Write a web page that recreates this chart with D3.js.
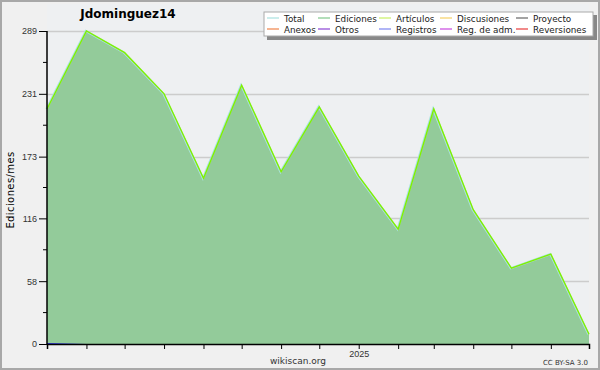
<!DOCTYPE html>
<html>
<head>
<meta charset="utf-8">
<script src="https://cdn.jsdelivr.net/npm/d3@7"></script>
<style>
  body { margin: 0; background: #f0f0f0; }
  svg { display: block; font-family: "DejaVu Sans", sans-serif; }
</style>
</head>
<body>
<div id="chart"></div>
<script>
const width = 600;
const height = 370;

const margin = {
    top: 31,
    right: 11,
    bottom: 26,
    left: 47
};

// monthly values, May 2024 .. Jul 2025
const months = ['2024-05', '2024-06', '2024-07', '2024-08', '2024-09', '2024-10', '2024-11', '2024-12',
    '2025-01', '2025-02', '2025-03', '2025-04', '2025-05', '2025-06', '2025-07'];
const totalValues = [217, 289, 269, 231, 153, 239, 159, 219, 155, 106, 217, 124, 70, 83, 9];
const articulosValues = [217, 289, 269, 231, 153, 239, 159, 219, 155, 106, 217, 124, 70, 83, 9];
const registrosValues = [1, 0, 0, 0, 0, 0, 0, 0, 0, 0, 0, 0, 0, 0, 0];
const yTicks = [0, 58, 116, 173, 231, 289];

const legendNames = ['Total', 'Ediciones', 'Artículos', 'Discusiones', 'Proyecto',
    'Anexos', 'Otros', 'Registros', 'Reg. de adm.', 'Reversiones'];
const legendColors = ['#a8e2e0', '#80c98c', '#c8f064', '#f5d066', '#666666',
    '#f0844a', '#8a44d4', '#7c84f0', '#c848e0', '#e83c3c'];

const parseMonth = d3.timeParse('%Y-%m');
const data = months.map((m, i) => ({
    date: parseMonth(m),
    total: totalValues[i],
    articulos: articulosValues[i],
    registros: registrosValues[i]
}));

const svg = d3.select('#chart').append('svg')
    .attr('width', width)
    .attr('height', height);

svg.append('rect')
    .attr('x', 1).attr('y', 1)
    .attr('width', width - 2).attr('height', height - 2)
    .attr('fill', '#f0f0f0')
    .attr('stroke', '#a8a8a8')
    .attr('stroke-width', 2);

const xScale = d3.scaleTime()
    .domain(d3.extent(data, d => d.date))
    .range([margin.left, width - margin.right]);

const yScale = d3.scaleLinear()
    .domain([0, d3.max(totalValues)])
    .range([height - margin.bottom, margin.top]);

// plot background
svg.append('rect')
    .attr('x', margin.left)
    .attr('y', 4)
    .attr('width', width - margin.right - margin.left)
    .attr('height', height - margin.bottom - 4)
    .attr('fill', '#eef0f2');

// grid
svg.selectAll('.grid')
    .data(yTicks.slice(1))
    .join('line')
    .attr('class', 'grid')
    .attr('x1', margin.left)
    .attr('x2', width - margin.right)
    .attr('y1', d => Math.round(yScale(d)) + 0.5)
    .attr('y2', d => Math.round(yScale(d)) + 0.5)
    .attr('stroke', '#cccccc')
    .attr('stroke-width', 1.5);

// areas
const area = d3.area()
    .x(d => xScale(d.date))
    .y0(yScale(0))
    .y1(d => yScale(d.total));

svg.append('path')
    .datum(data)
    .attr('d', area)
    .attr('fill', '#93cb9a');

svg.append('path')
    .datum(data)
    .attr('d', d3.area().x(d => xScale(d.date)).y0(yScale(0)).y1(d => yScale(d.registros)))
    .attr('fill', '#2a2ae0');

const line = d3.line()
    .x(d => xScale(d.date))
    .y(d => yScale(d.total));

svg.append('path')
    .datum(data)
    .attr('d', line)
    .attr('fill', 'none')
    .attr('stroke', '#a8e2e0')
    .attr('stroke-width', 2.2)
    .attr('transform', 'translate(-0.6,0)');

svg.append('path')
    .datum(data)
    .attr('d', d3.line().x(d => xScale(d.date)).y(d => yScale(d.articulos)))
    .attr('fill', 'none')
    .attr('stroke', '#80f000')
    .attr('stroke-width', 1.4);

// y axis
const yAxis = d3.axisLeft(yScale)
    .tickValues(yTicks)
    .tickSize(8)
    .tickPadding(2)
    .tickFormat(d3.format('d'));

const yAxisG = svg.append('g')
    .attr('transform', `translate(${margin.left},0)`)
    .call(yAxis);
yAxisG.select('.domain').remove();
yAxisG.selectAll('text').attr('font-size', 9).attr('fill', '#333');

const minorTicks = yTicks.slice(1).map((d, i) => (d + yTicks[i]) / 2);
svg.selectAll('.minor')
    .data(minorTicks)
    .join('line')
    .attr('class', 'minor')
    .attr('x1', margin.left - 4)
    .attr('x2', margin.left)
    .attr('y1', d => yScale(d))
    .attr('y2', d => yScale(d))
    .attr('stroke', '#000');

svg.append('line')
    .attr('x1', margin.left).attr('x2', margin.left)
    .attr('y1', yScale(d3.max(totalValues))).attr('y2', yScale(0) + 1)
    .attr('stroke', '#000').attr('stroke-width', 1.5);

// x axis
const xAxis = d3.axisBottom(xScale)
    .tickValues(data.map(d => d.date))
    .tickSize(5)
    .tickFormat(d => d.getMonth() === 0 ? d3.timeFormat('%Y')(d) : '');

const xAxisG = svg.append('g')
    .attr('transform', `translate(0,${yScale(0)})`)
    .call(xAxis);
xAxisG.select('.domain').attr('stroke-width', 1.5);
xAxisG.selectAll('text').attr('font-size', 9).attr('fill', '#333').attr('dy', '0.5em');

// texts
svg.append('text')
    .attr('x', 128).attr('y', 18)
    .attr('text-anchor', 'middle')
    .attr('font-size', 12).attr('font-weight', 'bold')
    .text('Jdominguez14');

svg.append('text')
    .attr('transform', `translate(14,190) rotate(-90)`)
    .attr('text-anchor', 'middle')
    .attr('font-size', 10)
    .attr('letter-spacing', 0.4)
    .text('Ediciones/mes');

svg.append('text')
    .attr('x', 298).attr('y', 364)
    .attr('text-anchor', 'middle')
    .attr('font-size', 9).attr('fill', '#333')
    .text('wikiscan.org');

svg.append('text')
    .attr('x', 588).attr('y', 365)
    .attr('text-anchor', 'end')
    .attr('font-size', 7).attr('fill', '#333')
    .text('CC BY-SA 3.0');

// legend
const legend = svg.append('g');
legend.append('rect')
    .attr('x', 267).attr('y', 15).attr('width', 330).attr('height', 25)
    .attr('fill', '#888');
legend.append('rect')
    .attr('x', 264).attr('y', 12).attr('width', 329).attr('height', 24)
    .attr('fill', '#fff').attr('stroke', '#aaa');

const colX = [267, 318, 379, 440, 516];
const items = legend.selectAll('.item')
    .data(legendNames)
    .join('g')
    .attr('class', 'item')
    .attr('transform', (d, i) => `translate(${colX[i % 5]},${i < 5 ? 18 : 29})`);
items.append('line')
    .attr('x1', 0).attr('x2', 12)
    .attr('stroke', (d, i) => legendColors[i])
    .attr('stroke-width', 1.2);
items.append('text')
    .attr('x', 17)
    .attr('y', 3.5)
    .attr('font-size', 8.8)
    .attr('fill', '#222')
    .text(d => d);
</script>
</body>
</html>
